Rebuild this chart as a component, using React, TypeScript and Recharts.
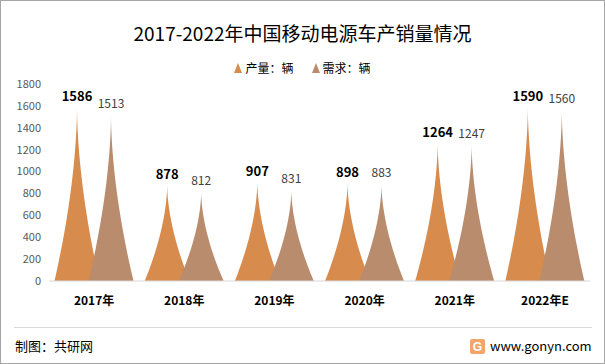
import { BarChart, Bar, XAxis, YAxis, LabelList } from "recharts";

const years = ["2017年", "2018年", "2019年", "2020年", "2021年", "2022年E"];
const production = [1586, 878, 907, 898, 1264, 1590];
const demand = [1513, 812, 831, 883, 1247, 1560];
const yTicks = [0, 200, 400, 600, 800, 1000, 1200, 1400, 1600, 1800];

const chartData = years.map((year, i) => ({ year, production: production[i], demand: demand[i] }));

const ORANGE = "#D78B4D";
const BROWN = "#B98C6D";
const FONT = "'Noto Sans CJK SC', 'Noto Sans', sans-serif";

// concave "spike" drawn on top of each bar slot
const Spike = (props: any) => {
  const { x, y, width, height, fill } = props;
  if (!height || height <= 0) return null;
  const cx = x + width / 2;
  const hw = 22.5;
  const base = y + height;
  const steps = 30;
  const left: string[] = [];
  const right: string[] = [];
  for (let i = 0; i <= steps; i++) {
    const f = i / steps;
    const w = hw * Math.pow(1 - f, 1.75);
    const py = base - f * height;
    left.push(`${cx - w},${py}`);
    right.unshift(`${cx + w},${py}`);
  }
  return <path d={`M${left.join(" L")} L${right.join(" L")} Z`} fill={fill} />;
};

const LegendMark = ({ color }: { color: string }) => (
  <svg width={8} height={10} style={{ marginRight: 3 }}>
    <polygon points="4,0 8,10 0,10" fill={color} />
  </svg>
);

export default function App() {
  return (
    <div style={{ position: "absolute", left: 0, top: 0, width: 605, height: 364, background: "#fff", fontFamily: FONT }}>
      <div style={{ position: "absolute", top: 18, width: 605, textAlign: "center", fontSize: 19, color: "#000", lineHeight: "30px" }}>
        2017-2022年中国移动电源车产销量情况
      </div>
      <div style={{ position: "absolute", top: 59, width: 605, display: "flex", justifyContent: "center", alignItems: "center", fontSize: 12, color: "#000", lineHeight: "18px" }}>
        <span style={{ display: "flex", alignItems: "center", marginRight: 18 }}>
          <LegendMark color={ORANGE} />产量：辆
        </span>
        <span style={{ display: "flex", alignItems: "center" }}>
          <LegendMark color={BROWN} />需求：辆
        </span>
      </div>
      <div style={{ position: "absolute", left: 0, top: 0 }}>
        <BarChart
          width={605}
          height={364}
          data={chartData}
          margin={{ top: 84, right: 15, bottom: 53, left: 9 }}
          barSize={34}
          barGap={0}
        >
          <XAxis
            dataKey="year"
            axisLine={{ stroke: "#d9d9d9" }}
            tickLine={false}
            tickMargin={9}
            height={30}
            tick={{ fill: "#000", fontSize: 12, fontWeight: "bold", fontFamily: FONT }}
          />
          <YAxis
            width={40}
            domain={[0, 1800]}
            ticks={yTicks}
            axisLine={false}
            tickLine={false}
            tick={{ fill: "#595959", fontSize: 11, fontFamily: FONT }}
          />
          <Bar dataKey="production" fill={ORANGE} shape={<Spike />} isAnimationActive={false}>
            <LabelList dataKey="production" position="top" offset={6} fill="#000" fontSize={13} fontWeight="bold" fontFamily={FONT} />
          </Bar>
          <Bar dataKey="demand" fill={BROWN} shape={<Spike />} isAnimationActive={false}>
            <LabelList dataKey="demand" position="top" offset={7} fill="#404040" fontSize={12} fontFamily={FONT} />
          </Bar>
        </BarChart>
      </div>
      <div style={{ position: "absolute", left: 14, top: 327, width: 578, height: 1, background: "#d9d9d9" }} />
      <div style={{ position: "absolute", left: 15, top: 337, fontSize: 13, color: "#000", lineHeight: "18px" }}>制图：共研网</div>
      <div style={{ position: "absolute", left: 470, top: 337, display: "flex", alignItems: "center", fontSize: 13, color: "#000", lineHeight: "18px" }}>
        <svg width={15} height={15} style={{ marginRight: 5 }}>
          <rect x={0} y={0} width={15} height={15} rx={2} fill="#F3A56B" />
          <text x={7.5} y={12} textAnchor="middle" fontSize={12} fontWeight="bold" fill="#fff" fontFamily="Arial">G</text>
        </svg>
        www.gonyn.com
      </div>
      <div style={{ position: "absolute", left: 0, top: 0, width: 605, height: 364, boxSizing: "border-box", border: "1px solid #a6a6a6", pointerEvents: "none" }} />
    </div>
  );
}
